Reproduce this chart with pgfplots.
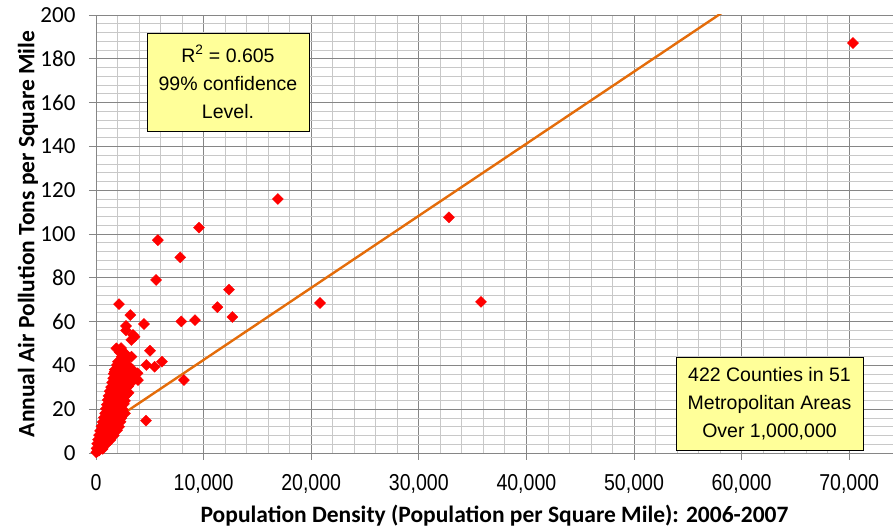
\documentclass[border=0pt]{standalone}
\usepackage{fontspec}
\setmainfont{Liberation Sans}
\newfontfamily\calibri{Carlito}
\usepackage{pgfplots}
\pgfplotsset{compat=1.18}
\definecolor{trend}{RGB}{228,108,10}
\definecolor{boxy}{RGB}{255,255,153}
\definecolor{majg}{RGB}{134,134,134}
\definecolor{ming}{RGB}{200,200,200}
\pgfplotstableread{
x y
20 0.3
150 0.8
300 1.2
60 2.1
250 1.8
450 2.4
620 1.9
110 4.2
330 3.8
560 4.1
800 3.6
1000 4.3
190 6.1
430 5.7
700 6.3
950 5.9
1200 6.4
1350 6.0
280 8.2
540 7.8
820 8.1
1100 7.7
1400 8.3
1650 8.0
380 10.1
650 9.8
930 10.3
1220 9.7
1500 10.2
1780 9.9
1950 10.4
500 12.2
780 11.8
1050 12.1
1350 12.4
1620 11.9
1900 12.2
2150 12.0
620 14.1
900 13.8
1180 14.3
1460 13.9
1750 14.2
2030 14.0
2280 14.3
730 16.2
1000 15.8
1300 16.1
1580 16.4
1870 15.9
2150 16.2
2350 16.0
850 18.1
1120 17.8
1400 18.3
1700 17.9
2000 18.2
2250 18.0
2420 18.4
920 20.2
1200 19.8
1480 20.1
1780 20.4
2080 19.9
2350 20.2
2500 19.8
1000 22.1
1280 21.8
1580 22.3
1880 21.9
2180 22.2
2450 22.0
2600 22.4
1080 24.2
1360 23.8
1650 24.1
1950 24.4
2250 23.9
2550 24.1
2700 23.8
1160 26.1
1450 25.8
1750 26.3
2050 25.9
2350 26.2
2650 26.0
2800 26.4
1280 28.2
1560 27.8
1850 28.1
2150 28.4
2450 27.9
2750 28.1
2900 27.8
1400 30.1
1680 29.8
1980 30.3
2280 29.9
2580 30.2
2850 30.0
3000 30.4
1500 32.2
1780 31.8
2080 32.1
2380 32.4
2680 31.9
2980 32.1
3200 31.8
1600 34.1
1880 33.8
2180 34.3
2480 33.9
2780 34.2
3100 34.0
1650 36.2
1950 35.8
2250 36.1
2550 36.4
2850 35.9
1750 38.1
2050 37.8
2350 38.3
2650 37.9
1950 40.2
2250 39.8
2500 40.1
3400 38.0
3000 40.0
2700 42.0
3300 44.0
2400 44.0
2200 46.0
2700 18.1
3030 27.5
3720 34.1
3870 36.4
3900 33.3
2140 68.0
3190 63.0
2790 58.0
4460 58.9
3440 53.9
3280 51.6
3590 53.1
2790 56.0
1890 47.8
2330 47.9
2660 45.6
2910 43.4
5020 46.7
2040 41.7
4680 40.2
5450 39.4
6130 41.7
2660 37.9
1730 37.1
3280 35.2
3100 36.4
70350 187.2
16900 116.0
32800 107.6
35780 69.0
20820 68.5
9570 102.9
5750 97.2
7830 89.3
5580 79.0
12360 74.6
11280 66.6
12680 62.1
9200 60.7
7930 60.1
8170 33.3
4650 14.8
}\pts
\begin{document}
\begin{tikzpicture}
\begin{axis}[
  scale only axis, width=797pt, height=438pt,
  xmin=0, xmax=74070, ymin=0, ymax=200,
  xtick={0,10000,...,70000}, minor x tick num=4,
  ytick={0,20,...,200}, minor y tick num=4,
  grid=both,
  major grid style={majg, line width=0.8pt},
  minor grid style={ming, line width=0.8pt},
  axis line style={majg, line width=0.8pt},
  tick align=outside, major tick length=7pt, minor tick length=0pt,
  tick style={majg, line width=0.8pt},
  xtick pos=left, ytick pos=left,
  scaled x ticks=false,
  /pgf/number format/1000 sep={,},
  /pgf/number format/assume math mode=true,
  xticklabel style={font=\fontsize{23}{24}\selectfont, text=black, xscale=0.85},
  yticklabel style={font=\calibri\fontsize{23}{24}\selectfont, text=black},
  xticklabel shift=11pt, yticklabel shift=10pt,
  xlabel={Population Density (Population per Square Mile): 2006-2007},
  ylabel={Annual Air Pollution Tons per Square Mile},
  xlabel style={font=\calibri\bfseries\fontsize{23.5}{25}\selectfont, at={(axis description cs:0.5,-0.1438)}, anchor=center},
  ylabel style={font=\calibri\bfseries\fontsize{23.5}{25}\selectfont, at={(axis description cs:-0.0853,0.5)}, anchor=center},
  clip=true,
]
\addplot[only marks, mark=square*, mark size=3.9pt, mark options={fill=red, draw=red, rotate=45}] table[x=x, y=y] {\pts};
\addplot[trend, line width=2.4pt] coordinates {(0,9.6) (70350,241.1)};
\end{axis}
\node[draw=black, line width=0.8pt, fill=boxy, minimum width=162pt, minimum height=98pt, align=center, inner sep=0pt, font=\fontsize{19.5}{28}\selectfont] at (132pt,371pt) {R\textsuperscript{2} = 0.605\\99\% confidence\\Level.};
\node[draw=black, line width=0.8pt, fill=boxy, minimum width=187pt, minimum height=93pt, align=center, inner sep=0pt, font=\fontsize{19.5}{28}\selectfont] at (673.5pt,49.5pt) {422 Counties in 51\\Metropolitan Areas\\Over 1,000,000};
\pgfresetboundingbox
\path[use as bounding box] (-96pt,-76pt) rectangle (797pt,453pt);
\end{tikzpicture}
\end{document}
